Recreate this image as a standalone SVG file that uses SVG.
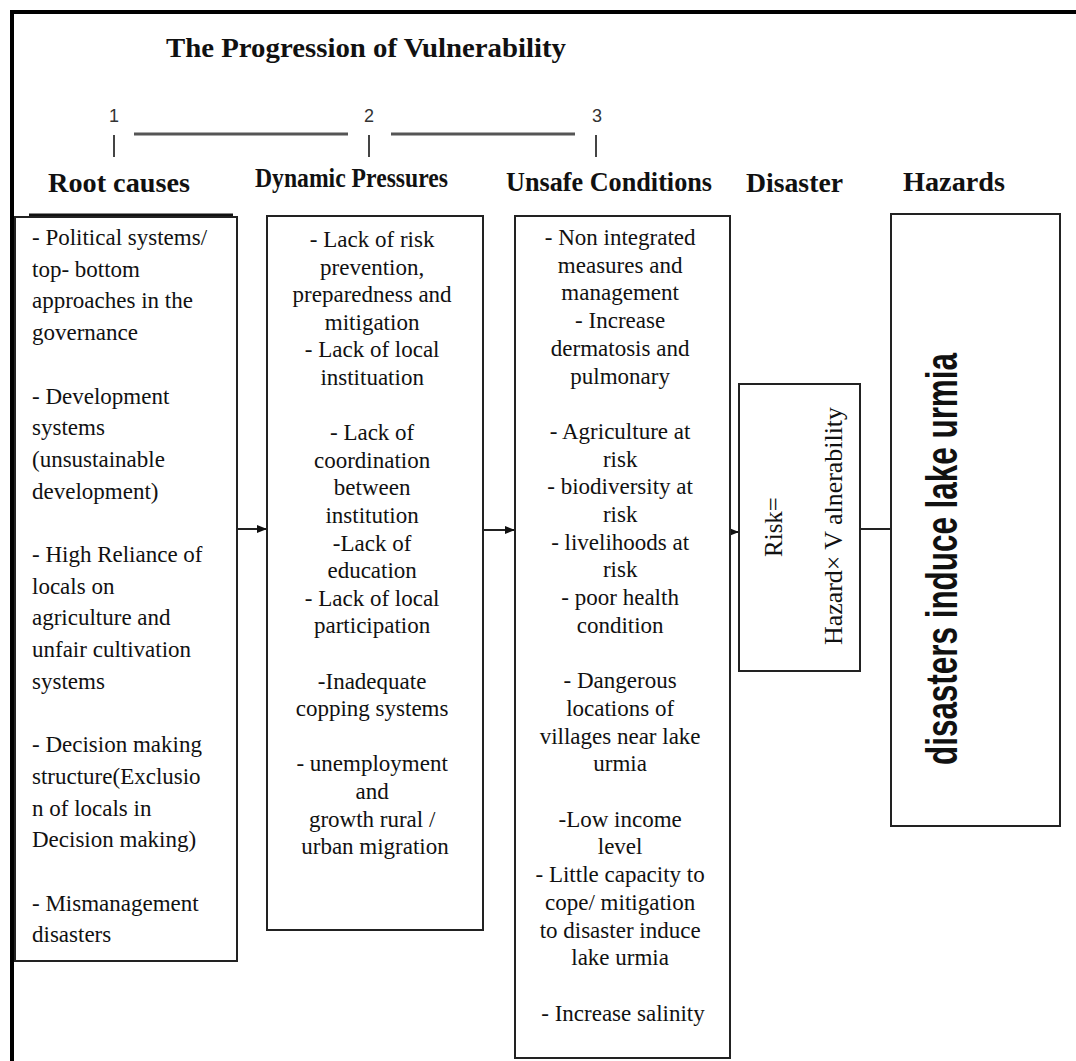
<svg xmlns="http://www.w3.org/2000/svg" width="1076" height="1061" viewBox="0 0 1076 1061">
<defs>
<marker id="ah" markerWidth="10" markerHeight="8" refX="10" refY="4" orient="auto" markerUnits="userSpaceOnUse">
<path d="M0,0 L10,4 L0,8 Z" fill="#111"/>
</marker>
<style>
.box{fill:#fff;stroke:#222;stroke-width:2}
.t{font-family:"Liberation Serif","Times New Roman",serif;font-size:23px;fill:#111}
.c{text-anchor:middle}
.h{font-family:"Liberation Serif","Times New Roman",serif;font-size:27px;font-weight:bold;fill:#111}
.num{font-family:"Liberation Sans",Arial,sans-serif;font-size:18px;fill:#333;text-anchor:middle}
.conn{stroke:#222;stroke-width:2;fill:none}
.tick{stroke:#444;stroke-width:2}
.bar{stroke:#555;stroke-width:3}
</style>
</defs>
<rect width="1076" height="1061" fill="#fff"/>
<path d="M12,1061 V12 H1076" fill="none" stroke="#000" stroke-width="4"/>

<g id="title">
<text x="166" y="57" class="h" font-size="29" textLength="400" lengthAdjust="spacingAndGlyphs">The Progression of Vulnerability</text>
</g>

<g id="stages">
<text x="114" y="122" class="num">1</text>
<text x="369" y="122" class="num">2</text>
<text x="597" y="122" class="num">3</text>
<line x1="114" y1="135" x2="114" y2="157" class="tick"/>
<line x1="369" y1="135" x2="369" y2="157" class="tick"/>
<line x1="596" y1="135" x2="596" y2="157" class="tick"/>
<line x1="134" y1="134" x2="348" y2="134" class="bar"/>
<line x1="391" y1="134" x2="575" y2="134" class="bar"/>
</g>

<g id="headers">
<text x="48" y="192" class="h" textLength="142" lengthAdjust="spacingAndGlyphs">Root causes</text>
<text x="255" y="187" class="h" textLength="193" lengthAdjust="spacingAndGlyphs">Dynamic Pressures</text>
<text x="506" y="191" class="h" textLength="206" lengthAdjust="spacingAndGlyphs">Unsafe Conditions</text>
<text x="746" y="192" class="h" textLength="97" lengthAdjust="spacingAndGlyphs">Disaster</text>
<text x="903" y="191" class="h" textLength="102" lengthAdjust="spacingAndGlyphs">Hazards</text>
</g>

<g id="connectors">
<line x1="238" y1="529" x2="267" y2="529" class="conn" marker-end="url(#ah)"/>
<line x1="484" y1="530" x2="515" y2="530" class="conn" marker-end="url(#ah)"/>
<line x1="730" y1="532" x2="739" y2="532" class="conn" marker-end="url(#ah)"/>
<line x1="860" y1="529" x2="891" y2="529" class="conn"/>
</g>

<g id="root-causes">
<line x1="29" y1="215" x2="233" y2="215" stroke="#111" stroke-width="3"/>
<rect x="15" y="217" width="222" height="744" class="box"/>
<text class="t">
<tspan x="32" y="245">- Political  systems/</tspan>
<tspan x="32" y="276.7">top- bottom</tspan>
<tspan x="32" y="308.4">approaches in the</tspan>
<tspan x="32" y="340.1">governance</tspan>
<tspan x="32" y="403.5">- Development</tspan>
<tspan x="32" y="435.2">systems</tspan>
<tspan x="32" y="466.9">(unsustainable</tspan>
<tspan x="32" y="498.6">development)</tspan>
<tspan x="32" y="562">- High Reliance  of</tspan>
<tspan x="32" y="593.7">locals on</tspan>
<tspan x="32" y="625.4">agriculture  and</tspan>
<tspan x="32" y="657.1">unfair cultivation</tspan>
<tspan x="32" y="688.8">systems</tspan>
<tspan x="32" y="752.2">- Decision making</tspan>
<tspan x="32" y="783.9">structure(Exclusio</tspan>
<tspan x="32" y="815.6">n of  locals  in</tspan>
<tspan x="32" y="847.3">Decision making)</tspan>
<tspan x="32" y="910.7">- Mismanagement</tspan>
<tspan x="32" y="942.4">disasters</tspan>
</text>
</g>

<g id="dynamic-pressures">
<rect x="267" y="216" width="216" height="714" class="box"/>
<text class="t c">
<tspan x="375" y="247">- Lack of risk</tspan>
<tspan x="375" y="274.6">prevention,</tspan>
<tspan x="375" y="302.2">preparedness and</tspan>
<tspan x="375" y="329.8">mitigation</tspan>
<tspan x="375" y="357.4">- Lack of local</tspan>
<tspan x="375" y="385">instituation</tspan>
<tspan x="375" y="440.2">- Lack of</tspan>
<tspan x="375" y="467.8">coordination</tspan>
<tspan x="375" y="495.4">between</tspan>
<tspan x="375" y="523">institution</tspan>
<tspan x="375" y="550.6">-Lack of</tspan>
<tspan x="375" y="578.2">education</tspan>
<tspan x="375" y="605.8">- Lack of local</tspan>
<tspan x="375" y="633.4">participation</tspan>
<tspan x="375" y="688.6">-Inadequate</tspan>
<tspan x="375" y="716.2">copping systems</tspan>
<tspan x="375" y="771.4">- unemployment</tspan>
<tspan x="375" y="799">and</tspan>
<tspan x="375" y="826.6">growth  rural /</tspan>
<tspan x="375" y="854.2">urban migration</tspan>
</text>
</g>

<g id="unsafe-conditions">
<rect x="515" y="216" width="215" height="842" class="box"/>
<text class="t c">
<tspan x="623" y="245">- Non integrated</tspan>
<tspan x="623" y="272.7">measures and</tspan>
<tspan x="623" y="300.4">management</tspan>
<tspan x="623" y="328.1">- Increase</tspan>
<tspan x="623" y="355.8">dermatosis  and</tspan>
<tspan x="623" y="383.5">pulmonary</tspan>
<tspan x="623" y="438.9">- Agriculture at</tspan>
<tspan x="623" y="466.6">risk</tspan>
<tspan x="623" y="494.3">- biodiversity at</tspan>
<tspan x="623" y="522">risk</tspan>
<tspan x="623" y="549.7">- livelihoods at</tspan>
<tspan x="623" y="577.4">risk</tspan>
<tspan x="623" y="605.1">- poor health</tspan>
<tspan x="623" y="632.8">condition</tspan>
<tspan x="623" y="688.2">- Dangerous</tspan>
<tspan x="623" y="715.9">locations of</tspan>
<tspan x="623" y="743.6">villages near  lake</tspan>
<tspan x="623" y="771.3">urmia</tspan>
<tspan x="623" y="826.7">-Low income</tspan>
<tspan x="623" y="854.4">level</tspan>
<tspan x="623" y="882.1">- Little capacity  to</tspan>
<tspan x="623" y="909.8">cope/ mitigation</tspan>
<tspan x="623" y="937.5">to disaster induce</tspan>
<tspan x="623" y="965.2">lake urmia</tspan>
<tspan x="623" y="1020.6">- Increase salinity</tspan>
</text>
</g>

<g id="disaster">
<rect x="739" y="384" width="121" height="287" class="box"/>
<text x="782" y="527" class="t c" style="font-size:25px" transform="rotate(-90 782 527)">Risk=</text>
<text x="842" y="526" class="t c" style="font-size:25px" textLength="238" lengthAdjust="spacingAndGlyphs" transform="rotate(-90 842 526)">Hazard× V alnerability</text>
</g>

<g id="hazards">
<rect x="891" y="214" width="169" height="612" class="box"/>
<text x="957" y="559" text-anchor="middle" font-family="'Liberation Sans',Arial,sans-serif" font-weight="bold" font-size="45" fill="#111" textLength="412" lengthAdjust="spacingAndGlyphs" transform="rotate(-90 957 559)">disasters induce lake urmia</text>
</g>
</svg>
